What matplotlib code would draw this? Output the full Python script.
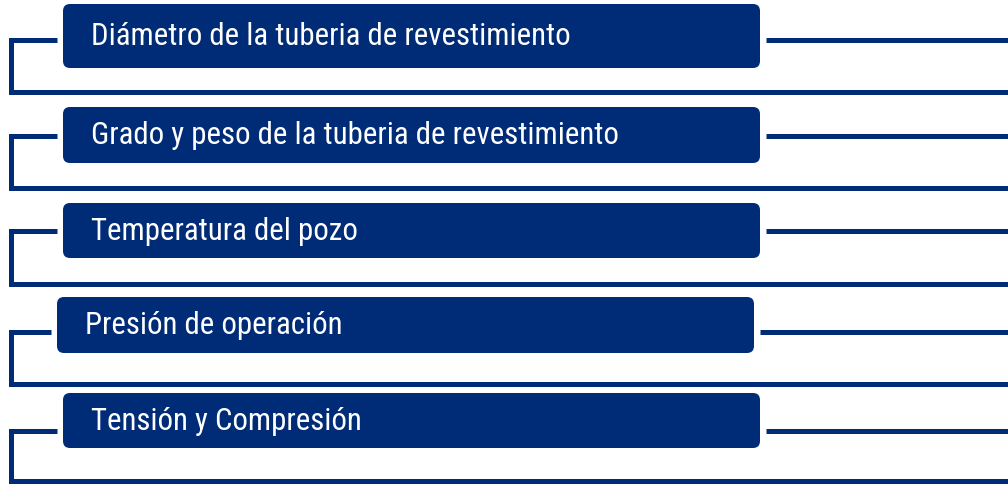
import matplotlib
matplotlib.use("Agg")
import matplotlib.pyplot as plt
from matplotlib.patches import FancyBboxPatch
import warnings
warnings.filterwarnings("ignore")

labels = [
    "Diámetro de la tuberia de revestimiento",
    "Grado y peso de la tuberia de revestimiento",
    "Temperatura del pozo",
    "Presión de operación",
    "Tensión y Compresión",
]

# layout (pixels)
box_left = [63, 63, 63, 57, 63]
box_right = [760, 760, 760, 754, 760]
box_top = [4, 107, 203, 297, 393]
box_bottom = [68, 163, 258, 353, 448]
link_y = [40, 136, 231, 332, 431]
base_y = [92, 188, 283.5, 384, 481]

NAVY = "#002c77"
W, H = 1008, 484

fig = plt.figure(figsize=(W / 100, H / 100), dpi=100)
ax = fig.add_axes([0, 0, 1, 1])
ax.set_xlim(0, W)
ax.set_ylim(H, 0)
ax.axis("off")

lw = 3.6
for i, lab in enumerate(labels):
    x0, x1 = box_left[i], box_right[i]
    y0, y1 = box_top[i], box_bottom[i]
    r = 7
    ax.add_patch(FancyBboxPatch((x0 + r, y0 + r), (x1 - x0) - 2 * r, (y1 - y0) - 2 * r,
                                boxstyle=f"round,pad={r}", fc=NAVY, ec="none", zorder=3))
    # left bracket
    ax.plot([x0 - 6, 10.5, 10.5, W + 5], [link_y[i], link_y[i], base_y[i], base_y[i]],
            color=NAVY, lw=lw, solid_joinstyle="miter", solid_capstyle="butt", zorder=2)
    # right line
    ax.plot([x1 + 6, W + 5], [link_y[i], link_y[i]], color=NAVY, lw=lw,
            solid_capstyle="butt", zorder=2)
    ax.text(x0 + 28, (y0 + y1) / 2 + 0.5, lab, color="white", fontsize=22.2,
            family=["Liberation Sans Narrow", "Roboto Condensed", "DejaVu Sans Condensed", "Roboto", "DejaVu Sans"],
            ha="left", va="center", zorder=4)

fig.savefig("out.png", dpi=100)
